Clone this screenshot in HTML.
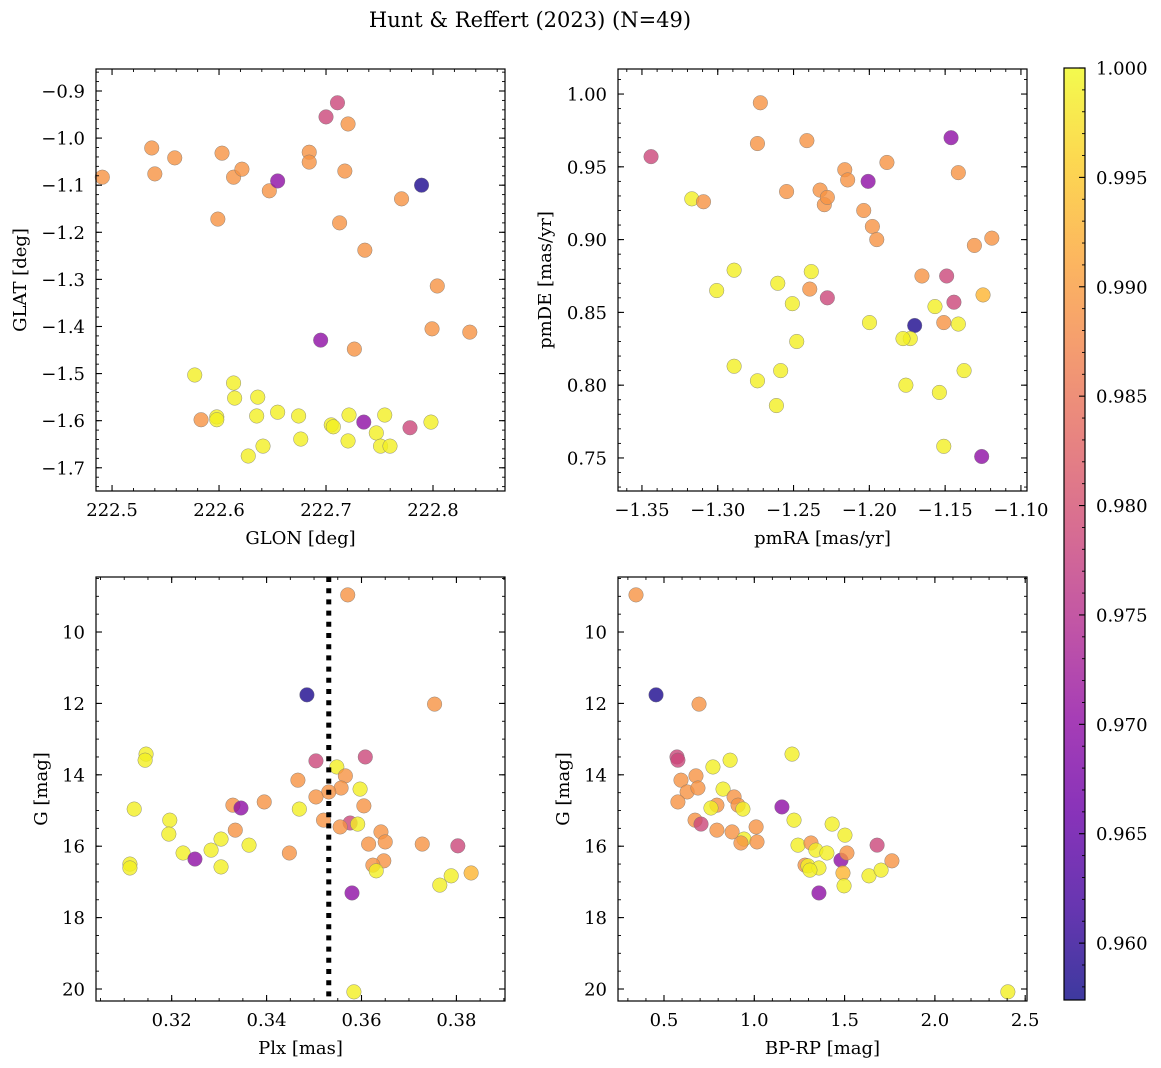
<!DOCTYPE html>
<html><head><meta charset="utf-8">
<style>
html,body{margin:0;padding:0;background:#fff;}
svg{display:block;font-family:"DejaVu Serif","Liberation Serif",serif;}
</style></head>
<body>
<svg id="fig" width="1161" height="1068" viewBox="0 0 1161 1068" xmlns="http://www.w3.org/2000/svg">
<defs>
<linearGradient id="plasma" x1="0" y1="1" x2="0" y2="0"></linearGradient>
</defs>
<text x="530" y="27" font-size="21" text-anchor="middle">Hunt &amp; Reffert (2023) (N=49)</text>
</svg>
<script>
// ---------- data ----------
const Y=0.999,O=0.989,OY=0.993,PK=0.9785,PU=0.970,DB=0.9585;
// Panel 1: GLON vs GLAT
const glon=[222.4909,222.5371,222.5400,222.5586,222.6028,222.5989,222.6136,222.6214,222.6470,222.6548,222.6843,222.6843,222.7000,222.7107,222.7206,222.7176,222.7127,222.7363,222.7706,222.7893,222.8040,222.7991,222.8344,222.6950,222.7265,
222.5773,222.5832,222.5979,222.5979,222.6136,222.6146,222.6362,222.6352,222.6548,222.6411,222.6273,222.6744,222.6764,222.7049,222.7068,222.7215,222.7206,222.7353,222.7470,222.7510,222.7549,222.7598,222.7785,222.7981];
const glat=[-1.083,-1.021,-1.076,-1.042,-1.032,-1.172,-1.083,-1.066,-1.112,-1.091,-1.030,-1.051,-0.955,-0.925,-0.970,-1.070,-1.180,-1.238,-1.129,-1.100,-1.314,-1.405,-1.412,-1.429,-1.448,
-1.503,-1.598,-1.592,-1.598,-1.520,-1.552,-1.550,-1.590,-1.582,-1.654,-1.675,-1.590,-1.639,-1.609,-1.613,-1.588,-1.643,-1.603,-1.626,-1.654,-1.588,-1.654,-1.615,-1.603];
const prob1=[O,O,O,O,O,O,O,O,O,PU,O,O,PK,PK,O,O,O,O,O,DB,O,O,O,PU,O,
Y,O,Y,Y,Y,Y,Y,Y,Y,Y,Y,Y,Y,Y,Y,Y,Y,PU,Y,Y,Y,Y,PK,Y];
// Panel 2: pmRA vs pmDE
const pmra=[-1.3440,-1.2719,-1.2738,-1.3171,-1.3094,-1.2546,-1.2412,-1.2325,-1.2297,-1.2277,-1.2162,-1.2143,-1.2037,-1.2008,-1.1980,-1.1951,-1.1884,-1.1461,-1.1413,-1.1307,-1.1192,-1.1250,-1.2892,-1.3007,-1.2604,-1.2383,-1.2393,-1.2508,-1.2277,-1.2479,-1.2585,-1.2738,-1.2892,-1.2613,-1.1999,-1.1653,-1.1490,-1.1567,-1.1442,-1.1509,-1.1413,-1.1701,-1.1730,-1.1778,-1.1759,-1.1538,-1.1375,-1.1509,-1.1259];
const pmde=[0.957,0.994,0.966,0.928,0.926,0.933,0.968,0.934,0.924,0.929,0.948,0.941,0.920,0.940,0.909,0.900,0.953,0.970,0.946,0.896,0.901,0.862,0.879,0.865,0.870,0.878,0.866,0.856,0.860,0.830,0.810,0.803,0.813,0.786,0.843,0.875,0.875,0.854,0.857,0.843,0.842,0.841,0.832,0.832,0.800,0.795,0.810,0.758,0.751];
const prob2=[PK,O,O,Y,O,O,O,O,O,O,O,O,O,PU,O,O,O,PU,O,O,O,OY,Y,Y,Y,Y,O,Y,PK,Y,Y,Y,Y,Y,Y,O,PK,Y,PK,O,Y,DB,Y,Y,Y,Y,Y,Y,PU];
// Panel 3: Plx vs G
const plx=[0.3485,0.3754,0.3504,0.3608,0.3548,0.3566,0.3466,0.3557,0.3531,0.3597,0.3504,0.3469,0.3605,0.3520,0.3576,0.3555,0.3592,0.3641,0.3615,0.3650,0.3728,0.3803,0.3448,0.3647,0.3624,0.3631,0.3789,0.3831,
0.3146,0.3144,0.3121,0.3196,0.3194,0.3329,0.3346,0.3395,0.3334,0.3304,0.3363,0.3283,0.3224,0.3249,0.3304,0.3112,0.3112,0.3571,0.3584,0.3580,0.3765];
const gmag3=[11.76,12.02,13.61,13.50,13.78,14.03,14.15,14.37,14.48,14.40,14.62,14.96,14.87,15.27,15.35,15.46,15.38,15.60,15.94,15.88,15.94,15.99,16.19,16.41,16.53,16.69,16.83,16.75,
13.42,13.59,14.96,15.27,15.66,14.85,14.93,14.76,15.55,15.80,15.97,16.11,16.19,16.36,16.58,16.50,16.61,8.96,20.08,17.31,17.09];
const prob3=[DB,O,PK,PK,Y,O,O,O,O,Y,O,Y,O,O,PK,O,Y,O,O,O,O,PK,O,O,O,Y,Y,OY,
Y,Y,Y,Y,Y,O,PU,O,O,Y,Y,Y,Y,PU,Y,Y,Y,O,Y,PU,Y];
const plxLine=0.3531;
// Panel 4: BP-RP vs G
const bprp=[0.456,0.694,0.572,0.577,0.771,0.866,1.209,0.594,0.677,0.628,0.688,0.827,0.577,0.793,0.760,0.888,0.910,0.937,1.153,0.672,0.705,0.793,0.877,1.010,0.943,0.926,1.015,1.220,1.431,1.502,1.242,1.314,1.341,1.402,1.480,1.513,1.281,1.297,1.358,1.308,1.491,1.497,1.358,1.635,0.345,2.404,1.680,1.762,1.702];
const gmag4=[11.76,12.02,13.50,13.59,13.78,13.59,13.42,14.15,14.03,14.48,14.37,14.40,14.76,14.85,14.93,14.62,14.85,14.96,14.90,15.27,15.38,15.55,15.60,15.46,15.80,15.91,15.88,15.27,15.38,15.69,15.97,15.91,16.11,16.19,16.39,16.19,16.53,16.55,16.61,16.67,16.75,17.11,17.31,16.83,8.96,20.08,15.97,16.41,16.67];
const prob4=[DB,O,PK,PK,Y,Y,Y,O,O,O,O,Y,O,O,Y,O,O,Y,PU,O,PK,O,O,O,Y,O,O,Y,Y,Y,Y,O,Y,Y,PU,O,O,Y,Y,Y,OY,Y,PU,Y,O,Y,PK,O,Y];
// colorbar
const cbTicks=[0.960,0.965,0.970,0.975,0.980,0.985,0.990,0.995,1.000];
const VMIN=0.9574,VMAX=1.0;

// ---------- helpers ----------
const NS="http://www.w3.org/2000/svg";
const svg=document.getElementById('fig');
const FS=18;
function mk(tag,attrs,parent){const e=document.createElementNS(NS,tag);for(const k in attrs)e.setAttribute(k,attrs[k]);(parent||svg).appendChild(e);return e;}
const stops=[[13,8,135],[65,4,157],[106,0,168],[143,13,164],[177,42,144],[204,71,120],[225,100,98],[242,132,75],[252,166,54],[252,206,37],[240,249,33]];
function plasma(t){t=Math.max(0,Math.min(1,t));const f=t*10,i=Math.min(9,Math.floor(f)),r=f-i;const a=stops[i],b=stops[i+1];
return 'rgb('+a.map((v,k)=>Math.round(v+(b[k]-v)*r)).join(',')+')';}
function cmap(v){return plasma((v-VMIN)/(VMAX-VMIN));}
const grad=document.getElementById('plasma');
for(let i=0;i<=10;i++){mk('stop',{offset:(i*10)+'%','stop-color':plasma(i/10)},grad);}

function panel(o){
  const g=mk('g',{});
  
  
  const sx=v=>o.x0+(v-o.xmin)/(o.xmax-o.xmin)*(o.x1-o.x0);
  const sy=v=>o.y1-(v-o.ymin)/(o.ymax-o.ymin)*(o.y1-o.y0);
  const pg=mk('g',{},g);
  
  
  for(let i=0;i<o.xs.length;i++){
    const c=mk('circle',{cx:sx(o.xs[i]),cy:sy(o.ys[i]),r:7.3,fill:cmap(o.cs[i]),'fill-opacity':0.8,stroke:'#777','stroke-opacity':0.8,'stroke-width':0.5},pg);
    
    
  }
  if(o.vline!==undefined){
    const l=mk('line',{x1:sx(o.vline),x2:sx(o.vline),y1:o.y0,y2:o.y1,stroke:'#000','stroke-width':5,'stroke-dasharray':'5,6.2'},g);
    
    
  }
  const fr=mk('rect',{x:o.x0,y:o.y0,width:o.x1-o.x0,height:o.y1-o.y0,fill:'none',stroke:'#000','stroke-width':1.2},g);
  
  
  const eps=1e-9;
  function ticks(min,max,step){const a=[];let s=Math.ceil((min-eps)/step);for(let v=s*step;v<=max+eps;v=(++s)*step)a.push(+v.toFixed(6));return a;}
  ticks(o.xmin,o.xmax,o.xminor).forEach(v=>{const X=sx(v);mk('line',{x1:X,x2:X,y1:o.y1,y2:o.y1-3,stroke:'#000','stroke-width':0.9},g);mk('line',{x1:X,x2:X,y1:o.y0,y2:o.y0+3,stroke:'#000','stroke-width':0.9},g);});
  ticks(o.ymin,o.ymax,o.yminor).forEach(v=>{const Yp=sy(v);mk('line',{x1:o.x0,x2:o.x0+3,y1:Yp,y2:Yp,stroke:'#000','stroke-width':0.9},g);mk('line',{x1:o.x1,x2:o.x1-3,y1:Yp,y2:Yp,stroke:'#000','stroke-width':0.9},g);});
  ticks(o.xmin,o.xmax,o.xmajor).forEach(v=>{const X=sx(v);mk('line',{x1:X,x2:X,y1:o.y1,y2:o.y1-6,stroke:'#000','stroke-width':1.1},g);mk('line',{x1:X,x2:X,y1:o.y0,y2:o.y0+6,stroke:'#000','stroke-width':1.1},g);
    const t=mk('text',{x:X,y:o.y1+25,'font-size':FS,'text-anchor':'middle'},g);t.textContent=o.fx(v).replace('-','\u2212');
    });
  ticks(o.ymin,o.ymax,o.ymajor).forEach(v=>{const Yp=sy(v);mk('line',{x1:o.x0,x2:o.x0+6,y1:Yp,y2:Yp,stroke:'#000','stroke-width':1.1},g);mk('line',{x1:o.x1,x2:o.x1-6,y1:Yp,y2:Yp,stroke:'#000','stroke-width':1.1},g);
    const t=mk('text',{x:o.x0-11,y:Yp+6.5,'font-size':FS,'text-anchor':'end'},g);t.textContent=o.fy(v).replace('-','\u2212');
    });
  const xl=mk('text',{x:(o.x0+o.x1)/2,y:o.y1+53,'font-size':FS,'text-anchor':'middle'},g);xl.textContent=o.xlabel;
  
  const yl=mk('text',{x:0,y:0,'font-size':FS,'text-anchor':'middle',transform:'translate('+o.ylx+','+((o.y0+o.y1)/2)+') rotate(-90)'},g);yl.textContent=o.ylabel;
  
}
const f1=v=>v.toFixed(1),f2=v=>v.toFixed(2),fi=v=>v.toFixed(0);
panel({name:'glon-glat-panel',x0:96,x1:505,y0:69,y1:491,xmin:222.485,xmax:222.8673,ymin:-1.7493,ymax:-0.8533,xmajor:0.1,xminor:0.02,ymajor:0.1,yminor:0.02,fx:f1,fy:f1,xs:glon,ys:glat,cs:prob1,xlabel:'GLON [deg]',ylabel:'GLAT [deg]',ylx:26});
panel({name:'proper-motion-panel',x0:618,x1:1027,y0:69,y1:491,xmin:-1.3658,xmax:-1.0960,ymin:0.7273,ymax:1.0172,xmajor:0.05,xminor:0.01,ymajor:0.05,yminor:0.01,fx:f2,fy:f2,xs:pmra,ys:pmde,cs:prob2,xlabel:'pmRA [mas/yr]',ylabel:'pmDE [mas/yr]',ylx:551});
panel({name:'parallax-magnitude-panel',x0:96,x1:505,y0:577,y1:1001,xmin:0.30405,xmax:0.39024,ymin:-20.336,ymax:-8.459,xmajor:0.02,xminor:0.005,ymajor:2,yminor:0.5,fx:f2,fy:v=>fi(-v),xs:plx,ys:gmag3.map(v=>-v),cs:prob3,vline:plxLine,xlabel:'Plx [mas]',ylabel:'G [mag]',ylx:47});
panel({name:'color-magnitude-panel',x0:618,x1:1027,y0:577,y1:1001,xmin:0.2453,xmax:2.510,ymin:-20.336,ymax:-8.459,xmajor:0.5,xminor:0.1,ymajor:2,yminor:0.5,fx:f1,fy:v=>fi(-v),xs:bprp,ys:gmag4.map(v=>-v),cs:prob4,xlabel:'BP-RP [mag]',ylabel:'G [mag]',ylx:569});

// colorbar
const cb=mk('g',{});


const cx0=1064,cx1=1085,cy0=68,cy1=1000;
const cby=v=>cy1-(v-VMIN)/(VMAX-VMIN)*(cy1-cy0);
mk('rect',{x:cx0,y:cy0,width:cx1-cx0,height:cy1-cy0,fill:'url(#plasma)','fill-opacity':0.8},cb);
mk('rect',{x:cx0,y:cy0,width:cx1-cx0,height:cy1-cy0,fill:'none',stroke:'#000','stroke-width':1.2},cb);
for(let k=958;k<=1000;k++){const v=k/1000;const Yp=cby(v);const maj=(k%5===0);
  mk('line',{x1:cx1,x2:cx1-(maj?6:3),y1:Yp,y2:Yp,stroke:'#000','stroke-width':maj?1.1:0.9},cb);}
cbTicks.forEach(v=>{const t=mk('text',{x:1096,y:cby(v)+6.5,'font-size':FS},cb);t.textContent=v.toFixed(3);
  });
</script>
</body></html>
